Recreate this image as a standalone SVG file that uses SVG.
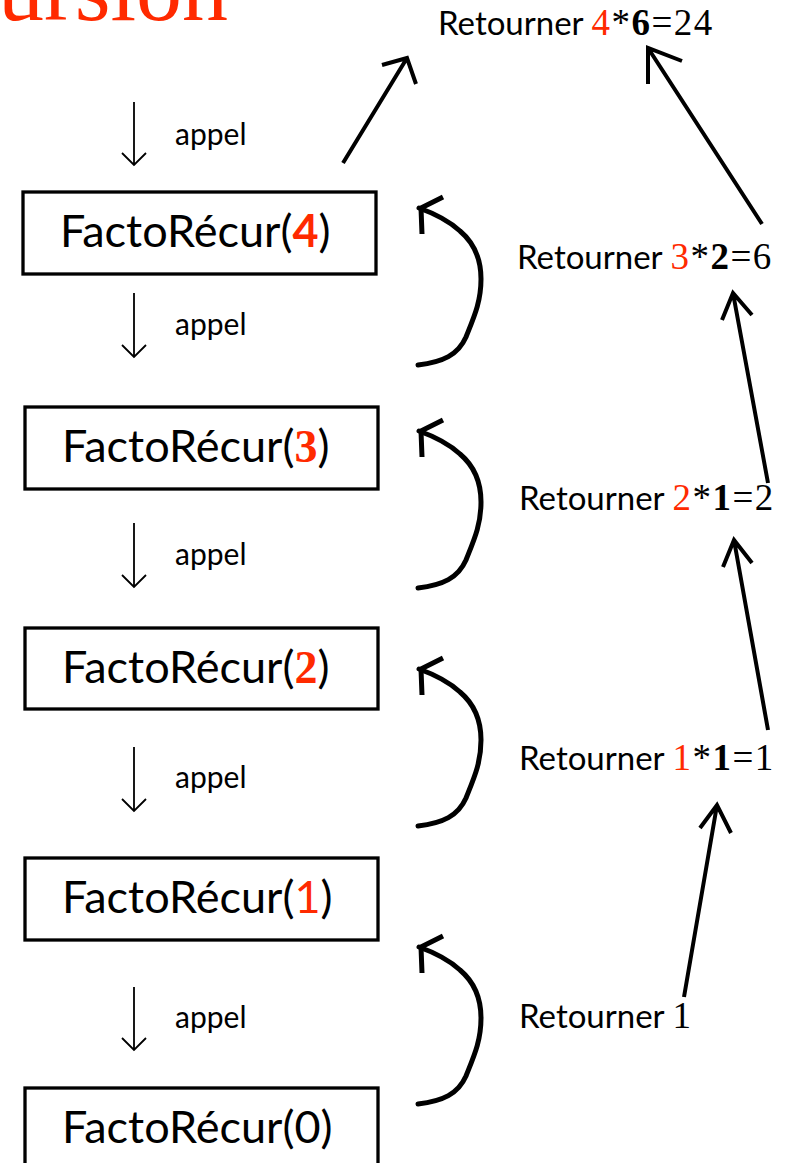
<svg xmlns="http://www.w3.org/2000/svg" width="796" height="1163" viewBox="0 0 796 1163">
<style>
.box{fill:#fff;stroke:#000;stroke-width:3.3}
.bt{font-family:Lato,"Open Sans",sans-serif;font-size:45px;fill:#000}
.ap{font-family:Lato,"Open Sans",sans-serif;font-size:30px;fill:#000}
.rt{font-family:Lato,"Open Sans",sans-serif;font-size:33px;fill:#000}
.sf{font-family:"Liberation Serif","Times New Roman",serif;font-size:37px;letter-spacing:1.5px}
.red{fill:#ff2a00}
.b{font-weight:bold}
.call{fill:none;stroke:#000;stroke-width:1.8}
.ret{fill:none;stroke:#000;stroke-width:4}
.cur{fill:none;stroke:#000;stroke-width:5;stroke-linecap:round;stroke-linejoin:round}
</style>
<defs>
<g id="curl">
<path class="cur" d="M0,158 C25,155 40,148 48,130 C56,110 63,95 63,72 C63,50 55,35 42,24 C30,13 15,6 1,1"/>
<path class="cur" style="stroke-linecap:butt" d="M4,27 L3,1 L25,-10"/>
</g>
</defs>
<text x="-2" y="20" font-family="Liberation Serif,Times New Roman,serif" font-size="92" fill="#ff2a00">ursion</text>

<g id="n4"><rect class="box" x="23" y="192" width="353" height="82"/><text class="bt" x="60" y="247">FactoRécur(<tspan class="red b">4</tspan>)</text></g>
<g id="n3"><rect class="box" x="25" y="407" width="353" height="82"/><text class="bt" x="62" y="462">FactoRécur(<tspan class="red b sf" style="font-size:46px;letter-spacing:0">3</tspan>)</text></g>
<g id="n2"><rect class="box" x="25" y="628" width="353" height="81"/><text class="bt" x="62" y="683">FactoRécur(<tspan class="red b sf" style="font-size:46px;letter-spacing:0">2</tspan>)</text></g>
<g id="n1"><rect class="box" x="25" y="858" width="353" height="82"/><text class="bt" x="62" y="913">FactoRécur(<tspan class="red">1</tspan>)</text></g>
<g id="n0"><rect class="box" x="25" y="1088" width="353" height="95"/><text class="bt" x="62" y="1143">FactoRécur(0)</text></g>

<g id="r4"><text class="rt" x="438" y="35">Retourner <tspan class="sf red">4</tspan><tspan class="sf">*</tspan><tspan class="sf b">6</tspan><tspan class="sf">=24</tspan></text></g>
<g id="r3"><text class="rt" x="517" y="269">Retourner <tspan class="sf red">3</tspan><tspan class="sf">*</tspan><tspan class="sf b">2</tspan><tspan class="sf">=6</tspan></text></g>
<g id="r2"><text class="rt" x="519" y="510">Retourner <tspan class="sf red">2</tspan><tspan class="sf">*</tspan><tspan class="sf b">1</tspan><tspan class="sf">=2</tspan></text></g>
<g id="r1"><text class="rt" x="519" y="770">Retourner <tspan class="sf red">1</tspan><tspan class="sf">*</tspan><tspan class="sf b">1</tspan><tspan class="sf">=1</tspan></text></g>
<g id="r0"><text class="rt" x="519" y="1028">Retourner <tspan class="sf">1</tspan></text></g>

<g id="connectors">
<g id="calls">
<path class="call" d="M134,102 V165 M122,153 L134,165 L146,153"/>
<text class="ap" x="175" y="145">appel</text>
<path class="call" d="M134,293 V357 M122,345 L134,357 L146,345"/>
<text class="ap" x="175" y="335">appel</text>
<path class="call" d="M134,523 V587 M122,575 L134,587 L146,575"/>
<text class="ap" x="175" y="565">appel</text>
<path class="call" d="M134,747 V811 M122,799 L134,811 L146,799"/>
<text class="ap" x="175" y="788">appel</text>
<path class="call" d="M134,987 V1050 M122,1038 L134,1050 L146,1038"/>
<text class="ap" x="175" y="1028">appel</text>
</g>
<g id="returns">
<path class="ret" d="M343,163 L407,58 M382,65 L407,58 L416,84"/>
<path class="ret" d="M762,224 L648,48 M648,84 L648,48 L682,61"/>
<path class="ret" d="M768,483 L733,293 M722,320 L733,293 L752,315"/>
<path class="ret" d="M768,730 L734,540 M723,567 L734,540 L752,563"/>
<path class="ret" d="M684,997 L717,805 M700,828 L717,805 L731,833"/>
</g>
<g id="curls">
<use href="#curl" x="418" y="207"/>
<use href="#curl" x="418" y="430"/>
<use href="#curl" x="418" y="668"/>
<use href="#curl" x="418" y="946"/>
</g>
</g>
</svg>
